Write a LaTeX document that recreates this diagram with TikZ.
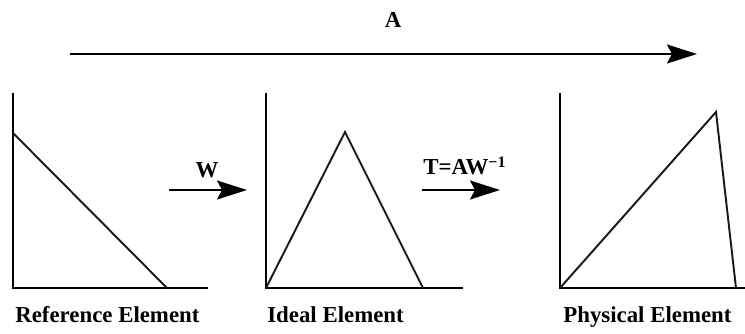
\documentclass[tikz,border=0pt]{standalone}
\usepackage{fontspec}
\setmainfont{Liberation Serif}
\usetikzlibrary{arrows.meta}
\tikzset{
  every node/.style={font=\bfseries\fontsize{13}{15}\selectfont, inner sep=0pt},
  ax/.style  ={line width=1.2pt, draw=black},
  shp/.style ={line width=1.1pt, draw=black!90, line join=miter},
  lbl/.style ={anchor=base west},
  ar/.style  ={-{Stealth[length=0.6cm, width=0.38cm, inset=0.1cm]}, line width=1.1pt, draw=black},
}

\begin{document}
\begin{tikzpicture}[x=0.02cm, y=-0.02cm]
\useasboundingbox (0,0) rectangle (745,334);

% ============ axes of the three elements ====================================
\foreach \x/\w in {13/195, 266/197, 560/185}{
  \draw[ax] (\x,93) -- (\x,288) -- (\x+\w,288);
}

% ============ element shapes ================================================
\draw[shp] (13,133) -- (167,288);                  % reference
\draw[shp] (266,288) -- (345,132) -- (423,288);    % ideal
\draw[shp] (560,288) -- (716,112) -- (736,288);    % physical

\node[lbl] (ref)  at (15,323)  {Reference Element};
\node[lbl] (idl)  at (267,323) {Ideal Element};
\node[lbl] (phy)  at (563,323) {Physical Element};

% ============ mappings ======================================================
\coordinate (a0) at (70,54);   \coordinate (a1) at (697,54);
\coordinate (w0) at (169,190); \coordinate (w1) at (247,190);
\coordinate (t0) at (422,190); \coordinate (t1) at (500,190);
\draw[ar] (a0) -- (a1);
\draw[ar] (w0) -- (w1);
\draw[ar] (t0) -- (t1);
\node (mA) at (393,20)  {A};
\node (mW) at (207,170) {W};
\node[lbl] (mT) at (423,175) {T=AW\textsuperscript{−1}};

\end{tikzpicture}
\end{document}
